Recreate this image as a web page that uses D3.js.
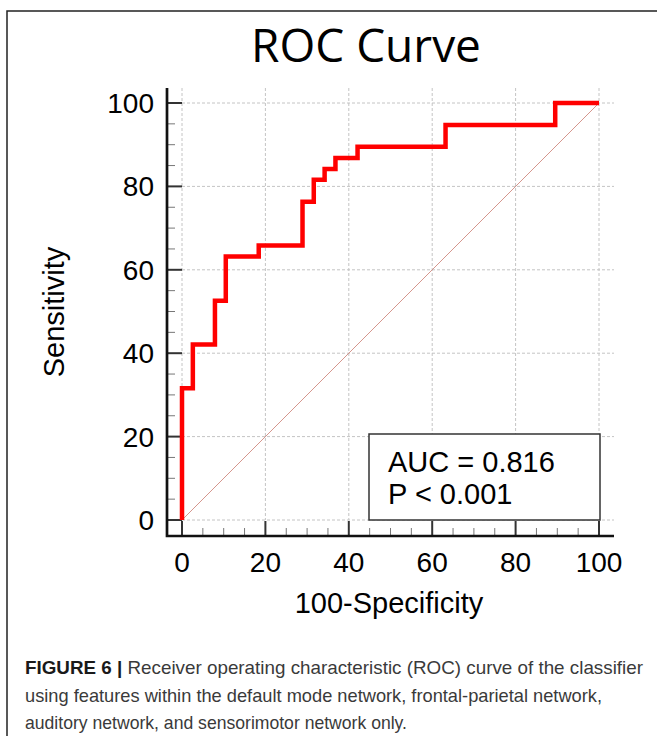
<!DOCTYPE html>
<html lang="en">
<head>
    <meta charset="utf-8">
    <title>ROC Curve</title>
    <style>
        body {
          margin: 0;
          background-color: #ffffff;
        }
        svg {
          display: block;
        }
        .tick-label, .axis-title, .legend-text {
          font-family: 'Liberation Sans', Arial, sans-serif;
          fill: #000;
        }
        .caption {
          font-family: 'Liberation Sans Narrow', 'Liberation Sans', Arial, sans-serif;
          font-size: 18.5px;
          fill: #3a3a3a;
        }
    </style>
    <script src="https://d3js.org/d3.v7.min.js" charset="utf-8"></script>
</head>
<body>
    <svg id="chart" width="657" height="736"></svg>

    <script type="text/javascript">
      // step points of the ROC curve (100-specificity, sensitivity)
      var specPts = [0, 0, 2.6, 7.9, 10.5, 18.4, 28.9, 31.6, 34.2, 36.8, 42.1, 63.2, 89.5, 100];
      var sensPts = [0, 31.6, 42.1, 52.6, 63.2, 65.8, 76.3, 81.6, 84.2, 86.8, 89.5, 94.7, 100, 100];
      var majorTicks = [0, 20, 40, 60, 80, 100];
      var minorTicks = d3.range(0, 101, 5);
      var statLines = ["AUC = 0.816", "P < 0.001"];
      var captionLines = [
        ["FIGURE 6 | ", "Receiver operating characteristic (ROC) curve of the classifier"],
        ["", "using features within the default mode network, frontal-parietal network,"],
        ["", "auditory network, and sensorimotor network only."]
      ];
      var captionWidths = [618, 577, 382];

      var svg = d3.select("#chart");

      var x = d3.scaleLinear().domain([0, 100]).range([182, 599]);
      var y = d3.scaleLinear().domain([0, 100]).range([520, 103]);

      // outer frame (open at right/bottom)
      svg.append("path")
        .attr("d", "M7,736 V11 H657")
        .attr("fill", "none")
        .attr("stroke", "#222")
        .attr("stroke-width", 1.5);

      // title
      svg.append("text")
        .attr("x", 366)
        .attr("y", 62)
        .attr("text-anchor", "middle")
        .attr("font-family", "'Open Sans', sans-serif")
        .attr("font-size", 46)
        .attr("fill", "#000")
        .text("ROC Curve");

      // grid
      svg.append("g").selectAll("line.vg")
        .data(majorTicks)
        .join("line")
        .attr("x1", d => x(d)).attr("x2", d => x(d))
        .attr("y1", 88).attr("y2", y(0))
        .attr("stroke", "#c4c4c4")
        .attr("stroke-width", 1)
        .attr("stroke-dasharray", "3,2");

      svg.append("g").selectAll("line.hg")
        .data(majorTicks)
        .join("line")
        .attr("x1", x(0)).attr("x2", 614)
        .attr("y1", d => y(d)).attr("y2", d => y(d))
        .attr("stroke", "#c4c4c4")
        .attr("stroke-width", 1)
        .attr("stroke-dasharray", "3,2");

      // y axis ticks
      svg.append("g").selectAll("line")
        .data(minorTicks)
        .join("line")
        .attr("x1", 167)
        .attr("x2", d => d % 20 == 0 ? 182 : 175)
        .attr("y1", d => y(d)).attr("y2", d => y(d))
        .attr("stroke", d => d % 20 == 0 ? "#333" : "#777")
        .attr("stroke-width", d => d % 20 == 0 ? 2 : 1);

      // x axis ticks
      svg.append("g").selectAll("line")
        .data(minorTicks)
        .join("line")
        .attr("y1", 536)
        .attr("y2", d => d % 20 == 0 ? 521 : 528)
        .attr("x1", d => x(d)).attr("x2", d => x(d))
        .attr("stroke", d => d % 20 == 0 ? "#333" : "#777")
        .attr("stroke-width", d => d % 20 == 0 ? 2 : 1);

      // axis lines
      svg.append("path")
        .attr("d", "M167,88 V536 H614")
        .attr("fill", "none")
        .attr("stroke", "#111")
        .attr("stroke-width", 2.7);

      svg.append("g").selectAll("text")
        .data(majorTicks)
        .join("text")
        .attr("class", "tick-label")
        .attr("x", 154)
        .attr("y", d => y(d))
        .attr("dy", "0.36em")
        .attr("text-anchor", "end")
        .attr("font-size", 28)
        .text(d => d);

      svg.append("g").selectAll("text")
        .data(majorTicks)
        .join("text")
        .attr("class", "tick-label")
        .attr("x", d => x(d))
        .attr("y", 572)
        .attr("text-anchor", "middle")
        .attr("font-size", 28)
        .text(d => d);

      svg.append("text")
        .attr("class", "axis-title")
        .attr("x", 389)
        .attr("y", 613)
        .attr("text-anchor", "middle")
        .attr("font-size", 29)
        .text("100-Specificity");

      svg.append("text")
        .attr("class", "axis-title")
        .attr("transform", "translate(64,312) rotate(-90)")
        .attr("text-anchor", "middle")
        .attr("font-size", 29)
        .text("Sensitivity");

      // reference diagonal
      svg.append("line")
        .attr("x1", x(0)).attr("y1", y(0))
        .attr("x2", x(100)).attr("y2", y(100))
        .attr("stroke", "#d08a80")
        .attr("stroke-width", 0.9);

      // ROC curve
      var line = d3.line()
        .x((d, i) => x(specPts[i]))
        .y((d, i) => y(sensPts[i]))
        .curve(d3.curveStepAfter);

      svg.append("path")
        .attr("d", line(specPts))
        .attr("fill", "none")
        .attr("stroke", "#ff0000")
        .attr("stroke-width", 4.5);

      // stats box
      svg.append("rect")
        .attr("x", 369).attr("y", 434)
        .attr("width", 231).attr("height", 86)
        .attr("fill", "#fff")
        .attr("stroke", "#333")
        .attr("stroke-width", 1.5);

      svg.append("g").selectAll("text")
        .data(statLines)
        .join("text")
        .attr("class", "legend-text")
        .attr("x", 388)
        .attr("y", (d, i) => 472 + i * 32)
        .attr("font-size", 29)
        .text(d => d);

      // caption
      var cap = svg.append("g").selectAll("text")
        .data(captionLines)
        .join("text")
        .attr("class", "caption")
        .attr("x", 25)
        .attr("y", (d, i) => 674 + i * 27.5)
        .attr("textLength", (d, i) => captionWidths[i])
        .attr("lengthAdjust", "spacingAndGlyphs");

      cap.append("tspan")
        .attr("font-weight", "bold")
        .attr("fill", "#1a1a1a")
        .text(d => d[0]);
      cap.append("tspan")
        .text(d => d[1]);
    </script>
</body>
</html>
